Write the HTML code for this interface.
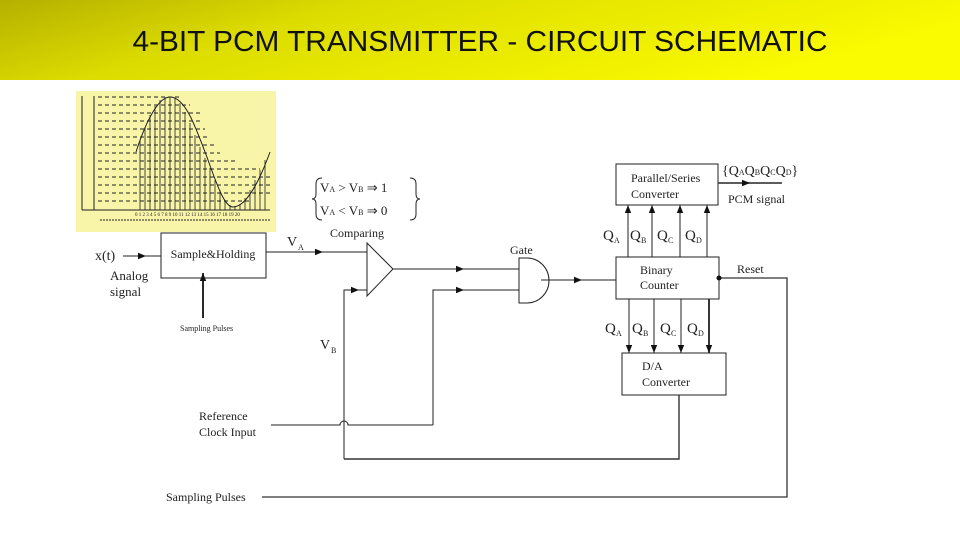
<!DOCTYPE html>
<html><head><meta charset="utf-8"><style>
html,body{margin:0;padding:0;background:#fff;}
svg{display:block}
text{font-family:"Liberation Serif",serif;fill:#222}
</style></head><body>
<svg width="960" height="540" viewBox="0 0 960 540" xmlns="http://www.w3.org/2000/svg">
<defs>
<linearGradient id="hg" x1="0" y1="0" x2="1" y2="0.3">
<stop offset="0" stop-color="#b5b000"/><stop offset="0.35" stop-color="#dcdc00"/><stop offset="1" stop-color="#fafa00"/>
</linearGradient>
<marker id="ar" viewBox="0 0 10 10" refX="5" refY="5" markerWidth="8" markerHeight="8" markerUnits="userSpaceOnUse" orient="auto"><path d="M0,1 L10,5 L0,9z" fill="#111"/></marker>
<marker id="ae" viewBox="0 0 10 10" refX="10" refY="5" markerWidth="8" markerHeight="8" markerUnits="userSpaceOnUse" orient="auto"><path d="M0,1 L10,5 L0,9z" fill="#111"/></marker>
</defs>
<rect x="0" y="0" width="960" height="80" fill="url(#hg)"/>
<text x="480" y="51" text-anchor="middle" textLength="695" lengthAdjust="spacingAndGlyphs" style="font-family:'Liberation Sans Narrow','Liberation Sans',sans-serif;font-size:29px;fill:#111">4-BIT PCM TRANSMITTER - CIRCUIT SCHEMATIC</text>

<!-- graph image -->
<rect x="76" y="91" width="200" height="141" fill="#f8f4a8"/>
<g stroke="#222" stroke-width="1" fill="none">
<line x1="82" y1="96" x2="82" y2="210"/>
<line x1="82" y1="210" x2="270" y2="210"/>
<line x1="94" y1="96" x2="94" y2="210"/>
<g stroke-dasharray="4,3">
<line x1="98" y1="97" x2="180" y2="97"/><line x1="98" y1="105" x2="190" y2="105"/><line x1="98" y1="113" x2="200" y2="113"/>
<line x1="98" y1="121" x2="200" y2="121"/><line x1="98" y1="129" x2="205" y2="129"/><line x1="98" y1="137" x2="210" y2="137"/>
<line x1="98" y1="145" x2="215" y2="145"/><line x1="98" y1="153" x2="220" y2="153"/><line x1="98" y1="161" x2="235" y2="161"/>
<line x1="98" y1="169" x2="260" y2="169"/><line x1="98" y1="177" x2="270" y2="177"/><line x1="98" y1="185" x2="270" y2="185"/>
<line x1="98" y1="193" x2="270" y2="193"/><line x1="98" y1="201" x2="250" y2="201"/>
</g>
<path d="M136,152 C148,115 160,97 170,97 C185,97 195,125 208,160 C218,188 225,207 233,207 C245,207 258,185 270,152"/>
<g stroke-width="0.8">
<path d="M140,210V140 M145,210V127 M150,210V115 M155,210V106 M160,210V100 M165,210V97 M170,210V97 M175,210V98 M180,210V103 M185,210V112 M190,210V123 M195,210V135 M200,210V147 M205,210V158 M210,210V168 M215,210V180 M220,210V190 M225,210V200 M230,210V205 M235,210V206 M240,210V204 M245,210V198 M250,210V190 M255,210V180 M260,210V170 M265,210V160"/>
</g>
<line x1="100" y1="220" x2="270" y2="220" stroke-dasharray="2,1"/>
</g>
<g style="font-size:5px"><text x="135" y="216">0 1 2 3 4 5 6 7 8 9 10 11 12 13 14 15 16 17 18 19 20</text></g>

<g fill="none" stroke="#222">
<!-- sample & hold -->
<rect x="161" y="233" width="105" height="45"/>
<line x1="123" y1="256" x2="146" y2="256" marker-end="url(#ae)"/><line x1="146" y1="256" x2="161" y2="256"/>
<line x1="203" y1="318" x2="203" y2="273" stroke="#111" stroke-width="1.8" marker-end="url(#ae)"/>
<!-- VA -->
<line x1="266" y1="252" x2="323" y2="252" marker-end="url(#ae)"/><line x1="323" y1="252" x2="367" y2="252"/>
<!-- braces -->
<path d="M322,178 Q316,178 316,184 L316,194 Q316,199 312,199 Q316,199 316,204 L316,214 Q316,220 322,220"/>
<path d="M410,178 Q416,178 416,184 L416,194 Q416,199 420,199 Q416,199 416,204 L416,214 Q416,220 410,220"/>
<!-- comparator -->
<path d="M367,243 L393,269 L367,296z" fill="#fff"/>
<line x1="393" y1="269" x2="464" y2="269" marker-end="url(#ae)"/><line x1="464" y1="269" x2="519" y2="269"/>
<path d="M344,459 L344,290 L359,290"/><line x1="350" y1="290" x2="359" y2="290" marker-end="url(#ae)"/><line x1="359" y1="290" x2="367" y2="290"/>
<!-- gate -->
<path d="M519,258 L527,258 A22,22.5 0 0 1 527,303 L519,303z" fill="#fff"/>
<path d="M433,425 L433,290 L464,290"/><line x1="455" y1="290" x2="464" y2="290" marker-end="url(#ae)"/><line x1="464" y1="290" x2="519" y2="290"/>
<path d="M271,425 L340,425 A4,4 0 0 1 348,425 L433,425"/>
<line x1="541" y1="280" x2="582" y2="280" marker-end="url(#ae)"/><line x1="582" y1="280" x2="616" y2="280"/>
<!-- counter -->
<rect x="616" y="257" width="103" height="42" fill="#fff"/>
<path d="M719,278 L787,278 L787,497 L262,497" stroke="#333" stroke-width="1.3"/>
<!-- P/S -->
<rect x="616" y="164" width="102" height="41" fill="#fff"/>
<line x1="718" y1="183" x2="750" y2="183" stroke="#444" stroke-width="1.8" marker-end="url(#ae)"/><line x1="750" y1="183" x2="782" y2="183" stroke="#444" stroke-width="1.8"/>
<line x1="628" y1="257" x2="628" y2="205" marker-end="url(#ae)"/>
<line x1="652" y1="257" x2="652" y2="205" marker-end="url(#ae)"/>
<line x1="680" y1="257" x2="680" y2="205" marker-end="url(#ae)"/>
<line x1="707" y1="257" x2="707" y2="205" marker-end="url(#ae)"/>
<line x1="629" y1="299" x2="629" y2="353" marker-end="url(#ae)"/>
<line x1="654" y1="299" x2="654" y2="353" marker-end="url(#ae)"/>
<line x1="681" y1="299" x2="681" y2="353" marker-end="url(#ae)"/>
<line x1="709" y1="299" x2="709" y2="353" stroke-width="1.8" marker-end="url(#ae)"/>
<!-- D/A -->
<rect x="622" y="353" width="104" height="42" fill="#fff"/>
<path d="M679,395 L679,459 L344,459" stroke="#333" stroke-width="1.4"/>
</g>
<circle cx="719" cy="278" r="2.5" fill="#111"/>

<text x="213" y="258" text-anchor="middle" style="font-size:12px">Sample&amp;Holding</text>
<text x="95" y="260" style="font-size:14px">x(t)</text>
<text x="110" y="280" style="font-size:13px">Analog</text>
<text x="110" y="296" style="font-size:13px">signal</text>
<text x="180" y="331" style="font-size:8px">Sampling Pulses</text>
<text x="287" y="246" style="font-size:14px">V</text><text x="298" y="250" style="font-size:8px">A</text>
<text x="330" y="237" style="font-size:12px">Comparing</text>
<text x="320" y="192" style="font-size:13px">V<tspan style="font-size:8px">A</tspan> &gt; V<tspan style="font-size:8px">B</tspan> ⇒ 1</text>
<text x="320" y="215" style="font-size:13px">V<tspan style="font-size:8px">A</tspan> &lt; V<tspan style="font-size:8px">B</tspan> ⇒ 0</text>
<text x="320" y="349" style="font-size:14px">V</text><text x="331" y="353" style="font-size:8px">B</text>
<text x="510" y="254" style="font-size:12px">Gate</text>
<text x="199" y="420" style="font-size:12px">Reference</text>
<text x="199" y="436" style="font-size:12px">Clock Input</text>
<text x="640" y="274" style="font-size:12px">Binary</text>
<text x="640" y="289" style="font-size:12px">Counter</text>
<text x="737" y="273" style="font-size:12px">Reset</text>
<text x="166" y="501" style="font-size:12px">Sampling Pulses</text>
<text x="631" y="182" style="font-size:12px">Parallel/Series</text>
<text x="631" y="198" style="font-size:12px">Converter</text>
<text x="722" y="175" style="font-size:14px">{Q<tspan style="font-size:8px">A</tspan>Q<tspan style="font-size:8px">B</tspan>Q<tspan style="font-size:8px">C</tspan>Q<tspan style="font-size:8px">D</tspan>}</text>
<text x="728" y="203" style="font-size:12px">PCM signal</text>
<g style="font-size:15px">
<text x="603" y="240">Q</text><text x="614" y="243" style="font-size:8px">A</text>
<text x="630" y="240">Q</text><text x="641" y="243" style="font-size:8px">B</text>
<text x="657" y="240">Q</text><text x="668" y="243" style="font-size:8px">C</text>
<text x="685" y="240">Q</text><text x="696" y="243" style="font-size:8px">D</text>
<text x="605" y="333">Q</text><text x="616" y="336" style="font-size:8px">A</text>
<text x="632" y="333">Q</text><text x="643" y="336" style="font-size:8px">B</text>
<text x="660" y="333">Q</text><text x="671" y="336" style="font-size:8px">C</text>
<text x="687" y="333">Q</text><text x="698" y="336" style="font-size:8px">D</text>
</g>
<text x="642" y="370" style="font-size:12px">D/A</text>
<text x="642" y="386" style="font-size:12px">Converter</text>
</svg>
</body></html>
